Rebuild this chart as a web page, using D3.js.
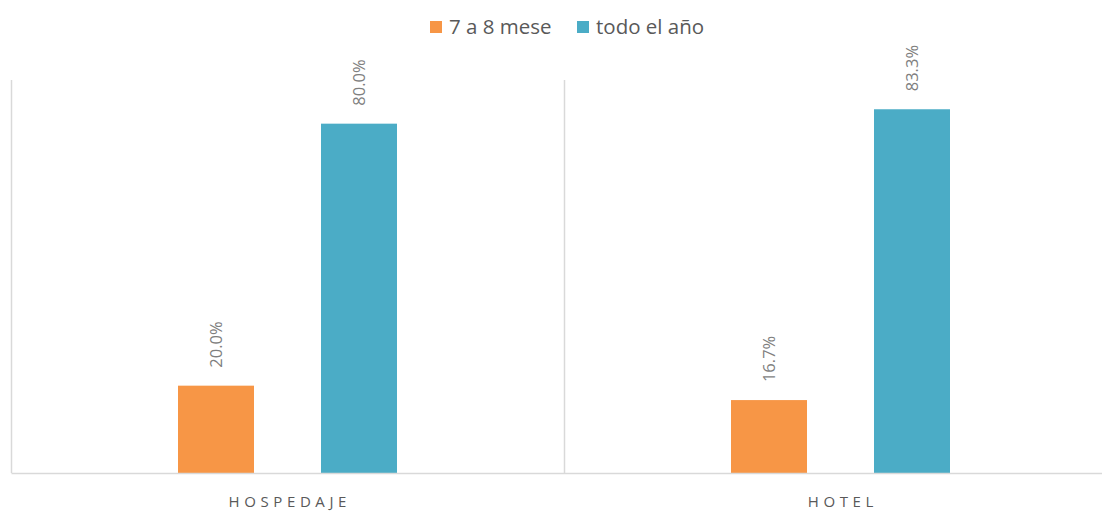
<!DOCTYPE html>
<html>
<head>
<meta charset="utf-8">
<script src="https://cdn.jsdelivr.net/npm/d3@7"></script>
<style>
  html, body { margin: 0; padding: 0; background: #fff; }
  svg { display: block; font-family: "Open Sans", "Noto Sans", sans-serif; }
</style>
</head>
<body>
<svg id="chart" width="1102" height="511"></svg>
<script>
const categories = ["HOSPEDAJE", "HOTEL"];
const seriesNames = ["7 a 8 mese", "todo el año"];
const series1 = [20.0, 16.7];   // 7 a 8 mese
const series2 = [80.0, 83.3];   // todo el año
const colors = ["#F79646", "#4BACC6"];

const svg = d3.select("#chart");
const left = 11, bandW = 553, baseY = 473, topY = 80;

const x = d3.scaleBand().domain(categories).range([left, left + bandW * categories.length]).paddingInner(0).paddingOuter(0);
const y = d3.scaleLinear().domain([0, 90]).range([baseY, topY]);
const xs = d3.scaleBand().domain(seriesNames).range([0, x.bandwidth()]).paddingInner(0.4685).paddingOuter(1.168);

const data = categories.map((c, i) => ({ cat: c, vals: [series1[i], series2[i]] }));

// category separators (vertical lines)
const seps = d3.range(categories.length).map(i => x(categories[i]));
svg.selectAll("line.sep").data(seps).enter().append("line")
  .attr("x1", d => d + 0.5).attr("x2", d => d + 0.5)
  .attr("y1", y(90)).attr("y2", baseY)
  .attr("stroke", "#d9d9d9").attr("stroke-width", 1.5);

// bars
const g = svg.selectAll("g.cat").data(data).enter().append("g")
  .attr("transform", d => `translate(${x(d.cat)},0)`);

g.selectAll("rect").data(d => d.vals.map((v, j) => ({ v, s: seriesNames[j], j })))
  .enter().append("rect")
  .attr("x", d => xs(d.s))
  .attr("width", xs.bandwidth())
  .attr("y", d => y(d.v))
  .attr("height", d => baseY - y(d.v))
  .attr("fill", d => colors[d.j]);

// value labels (rotated)
g.selectAll("text.val").data(d => d.vals.map((v, j) => ({ v, s: seriesNames[j], j })))
  .enter().append("text")
  .attr("class", "val")
  .attr("transform", d => `translate(${xs(d.s) + xs.bandwidth() / 2 + 6},${y(d.v) - 18}) rotate(-90)`)
  .attr("text-anchor", "start")
  .attr("font-size", 16.5)
  .attr("fill", "#7f7f7f")
  .text(d => d3.format(".1f")(d.v) + "%");

// x axis baseline
const xAxis = d3.axisBottom(x).tickSize(0).tickPadding(0);
const ax = svg.append("g").attr("transform", `translate(0,${baseY})`).call(xAxis);
ax.select(".domain").attr("stroke", "#d9d9d9").attr("stroke-width", 1.5);
ax.selectAll("text")
  .attr("dy", 0).attr("y", 34)
  .attr("font-size", 15)
  .attr("font-family", "'Open Sans', sans-serif")
  .attr("letter-spacing", "4.6px")
  .attr("dx", 2.3)
  .attr("fill", "#595959");

// legend
const legend = svg.append("g");
const legendItems = [{ name: seriesNames[0], c: colors[0], x: 430 }, { name: seriesNames[1], c: colors[1], x: 577 }];
const li = legend.selectAll("g").data(legendItems).enter().append("g")
  .attr("transform", d => `translate(${d.x},21)`);
li.append("rect").attr("width", 12).attr("height", 12).attr("fill", d => d.c);
li.append("text").attr("x", 19).attr("y", 12.5).attr("font-size", 20.5)
  .attr("fill", "#595959").text(d => d.name);
</script>
</body>
</html>
